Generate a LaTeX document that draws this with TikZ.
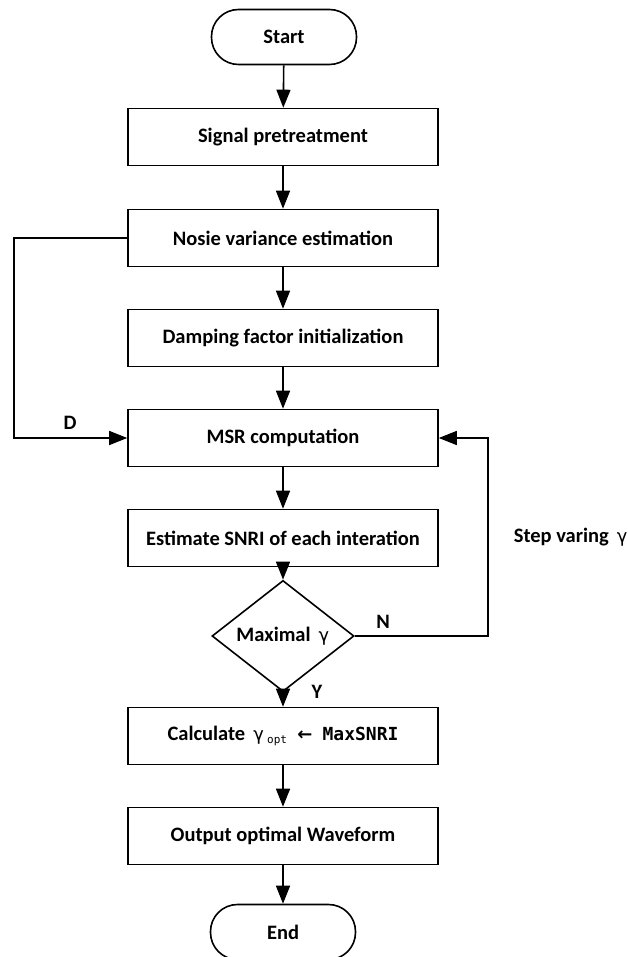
\documentclass[tikz,border=0pt]{standalone}
\usepackage{fontspec}
\setmainfont{Carlito}
\newfontfamily\monofnt{DejaVu Sans Mono}
\newfontfamily\symfnt{DejaVu Sans}
\usetikzlibrary{shapes.geometric,arrows.meta}

\begin{document}
\begin{tikzpicture}[x=1pt,y=-1pt,line width=1.6pt,
  every node/.style={font=\bfseries\fontsize{20.5}{24}\selectfont},
  procbox/.style={draw,rectangle,minimum width=310pt,minimum height=57pt,inner sep=0pt},
  termbox/.style={draw,rectangle,rounded corners=27pt,minimum width=145pt,minimum height=55pt,inner sep=0pt},
  decbox/.style={draw,diamond,minimum width=142pt,minimum height=85pt,inner sep=0pt},
  flow/.style={-{Triangle[length=18pt,width=14pt]}}]
\useasboundingbox (0,0) rectangle (627,957);
\node [termbox] (start) at (284,37) {Start};
\node [procbox] (sig) at (283,137) {Signal pretreatment};
\node [procbox] (nos) at (283,238) {Nosie variance estimation};
\node [procbox] (damp) at (283,338) {Damping factor initialization};
\node [procbox] (msr) at (283,438) {MSR computation};
\node [procbox] (snri) at (283,538) {Estimate SNRI of each interation};
\node [decbox] (maxg) at (283,636) {Maximal\, {\monofnt\mdseries\fontsize{18}{20}\selectfont γ}};
\node [procbox] (calc) at (283,736) {Calculate\, {\monofnt\mdseries\fontsize{18}{20}\selectfont γ\,{\fontsize{11}{12}\selectfont\raisebox{-3pt}{opt}}}\enspace{\symfnt\fontsize{18}{20}\selectfont ←}\enspace{\monofnt\fontsize{18}{20}\selectfont MaxSNRI}};
\node [procbox] (outw) at (283,836) {Output optimal Waveform};
\node [termbox] (fin) at (283,932) {End};
\node (dlab) at (70,423) {D};
\node (nlab) at (383,622) {N};
\node (ylab) at (317,692) {Y};
\node [anchor=west,inner sep=0pt] (steplab) at (513,537) {Step varing\, {\monofnt\mdseries\fontsize{18}{20}\selectfont γ}};
\draw [flow] (start) -- (sig);
\draw [flow] (sig) -- (nos);
\draw [flow] (nos) -- (damp);
\draw [flow] (damp) -- (msr);
\draw [flow] (msr) -- (snri);
\draw [flow] (snri) -- (maxg);
\draw [flow] (maxg) -- (calc);
\draw [flow] (calc) -- (outw);
\draw [flow] (outw) -- (fin);
\draw [flow] (nos.west) -- ++(-113,0) |- (msr.west);
\draw [flow] (maxg.east) -- ++(133,0) |- (msr.east);
\end{tikzpicture}
\end{document}
